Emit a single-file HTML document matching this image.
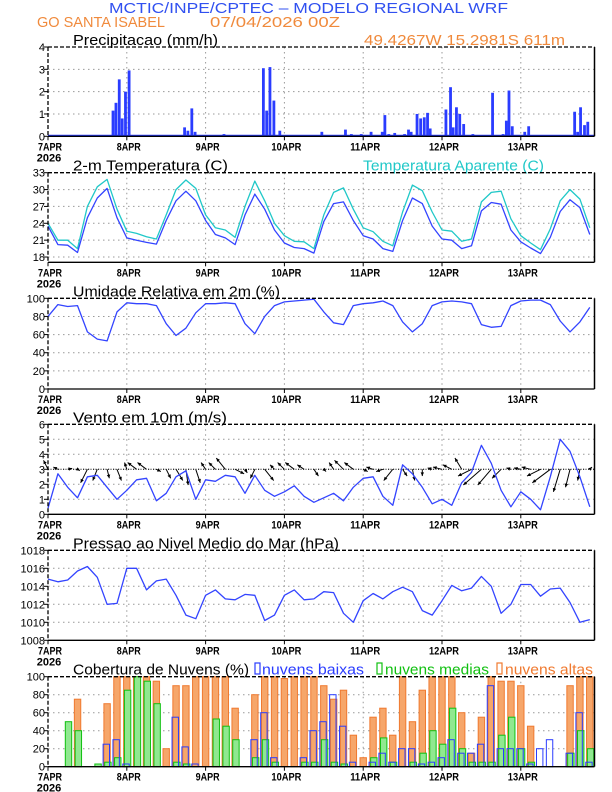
<!DOCTYPE html>
<html><head><meta charset="utf-8"><style>
html,body{margin:0;padding:0;background:#fff}
svg{display:block}
text{font-family:"Liberation Sans",sans-serif}
</style></head><body>
<svg id="chart" width="612" height="792" viewBox="0 0 612 792" xmlns="http://www.w3.org/2000/svg">
<text x="109" y="13" font-size="15" fill="#3050f0" textLength="399" lengthAdjust="spacingAndGlyphs">MCTIC/INPE/CPTEC – MODELO REGIONAL WRF</text>
<text x="37" y="27" font-size="15" fill="#f08a3c" textLength="128" lengthAdjust="spacingAndGlyphs">GO SANTA ISABEL</text>
<text x="210" y="27" font-size="15" fill="#f08a3c" textLength="130" lengthAdjust="spacingAndGlyphs">07/04/2026 00Z</text>
<text x="364" y="45" font-size="15" fill="#f08a3c" textLength="201" lengthAdjust="spacingAndGlyphs">49.4267W 15.2981S 611m</text>
</svg>
<script>
// ---------- data ----------
const dayLabels = ["7APR","8APR","9APR","10APR","11APR","12APR","13APR"];
const hours3 = [0,3,6,9,12,15,18,21,24,27,30,33,36,39,42,45,48,51,54,57,60,63,66,69,72,75,78,81,84,87,90,93,96,99,102,105,108,111,114,117,120,123,126,129,132,135,138,141,144,147,150,153,156,159,162,165];
const precipHours = [12.6,15,16,19.8,20.7,21.7,22.6,23.6,24.7,41.6,42.6,43.8,44.8,53.6,54.6,65.6,66.6,67.6,68.8,70.6,71.6,83.4,84.6,90.6,92.4,95.4,98.4,101.8,102.6,103.8,105.6,108.6,109.8,110.6,112.4,113.5,114.6,115.6,116.4,121.2,122.6,123.4,124.4,125.4,126.6,129.4,135.4,138.6,139.6,140.4,141.4,144,145.2,146.4,149.4,150.4,160.4,161.3,162.2,163.4,164.4];
const precipValues = [0.05,0.05,0.05,1.15,1.5,2.55,0.8,2.0,2.95,0.4,0.25,1.25,0.2,0.1,0.05,3.05,1.15,3.1,1.6,0.25,0.05,0.2,0.05,0.3,0.1,0.1,0.2,0.2,0.95,0.1,0.15,0.1,0.3,0.2,1.0,0.8,0.85,1.05,0.35,1.2,2.2,0.4,1.3,1.0,0.55,0.1,1.95,0.1,0.7,2.05,0.45,0.05,0.2,0.45,0.05,0.05,1.1,0.2,1.3,0.5,0.65];
const tempValues = [23.5,20.2,20.1,18.8,25.0,28.5,30.2,25.0,21.4,21.0,20.6,20.3,24.5,28.0,29.7,28.0,24.5,22.0,21.4,20.2,25.5,29.2,26.5,22.8,20.5,19.7,19.5,18.7,24.3,27.5,27.8,24.5,21.8,21.2,19.5,19.0,24.5,28.5,27.5,23.5,21.2,21.0,19.5,20.0,26.2,27.7,27.4,22.8,20.7,19.6,18.6,21.5,26.1,28.2,26.8,22.0];
const apparentValues = [24,21,21,19.5,27,30.5,31.8,26.5,22.6,22.2,21.6,21.2,25.5,30,31.7,30.2,25.5,23.2,22.8,21.5,27,31.5,28,24,21.8,20.8,20.7,19.5,25.5,29.5,30.3,26.5,23.2,22.5,20.8,20.0,26.0,30.8,29.8,26.0,22.8,22.6,20.8,21.2,27.8,29.5,29.7,24.8,21.8,20.5,19.3,23.0,28.0,30.0,28.3,23.2];
const rhValues = [80,93,91,92,63,55,53,85,95,94,94,92,72,59,67,84,94,94,95,94,72,61,80,92,96,97,98,99,85,73,71,92,94,95,97,92,74,63,72,92,96,97,96,94,71,68,69,92,97,98,98,93,75,63,74,90];
const windSpeed = [0.4,2.7,1.8,1.1,2.5,2.6,1.8,1.0,1.6,2.3,2.4,0.9,1.4,2.5,2.9,1.0,2.3,2.2,2.6,2.5,1.4,2.6,1.6,1.2,1.5,1.9,1.2,0.8,1.1,1.4,0.9,1.8,2.4,2.5,1.2,0.6,3.3,2.7,1.8,0.7,1.0,0.6,2.1,2.8,4.6,3.4,1.6,0.5,1.5,1.0,0.3,2.5,5.0,4.2,2.5,0.5];
const windU = [-1,-1,1,0.5,-1.5,-1,0.5,1,-0.5,-2,-2,1,1,1.5,0.5,1,-1,-1.5,-2,2,0.5,-1,2,-1,-1.5,-2,-1.5,1,0.5,-1,-2,-2,1,-1.5,-1.5,-2,1,0.5,0,-1,-2,-2,-1.5,-3,-4,-3,-2,-1,-1.5,-2,-3,-4,-1.5,-1,-0.5,0.5];
const windV = [2,0.5,0.2,-0.3,-3,-2.5,-2,-2.5,1.5,1.5,1.5,-0.5,-2,-2.5,-3.5,-3,1.5,1.5,2.5,-1,-0.8,-2,-2.5,1,1.5,1.5,1,-1.5,-0.5,1.5,2,1.5,-0.5,0.5,-0.5,-2.5,-1.5,-2.5,-1.5,0.3,0.5,1,2.5,-1.5,-3.5,-3.5,-2,0.3,0.3,0.5,-1.5,-3,-5,-4,-2.5,0.5];
const pressureValues = [1014.8,1014.5,1014.7,1015.7,1016.2,1015.0,1012.0,1012.1,1016.0,1016.0,1013.6,1014.6,1014.8,1013.0,1010.8,1010.4,1013.0,1013.6,1012.6,1012.5,1013.1,1013.0,1010.2,1010.8,1013.0,1013.6,1012.5,1012.6,1013.4,1013.3,1011.0,1010.0,1012.4,1013.2,1012.6,1013.4,1013.9,1013.4,1011.3,1010.8,1012.4,1014.1,1013.5,1013.8,1015.1,1014.0,1011.0,1012.0,1014.2,1014.2,1012.9,1013.7,1013.8,1012.2,1010.0,1010.3];
const cloudHigh = [0,0,0,75,0,0,70,100,100,100,100,95,20,90,90,100,100,100,100,65,0,80,100,100,98,100,100,100,90,75,85,35,10,55,65,35,100,50,85,100,100,100,60,15,55,100,95,95,90,45,0,0,0,90,100,100];
const cloudMid = [0,0,50,40,0,3,5,10,85,100,95,70,0,5,3,0,0,53,45,30,0,10,30,5,0,0,5,5,30,5,3,0,0,10,32,5,0,5,15,40,25,65,20,5,5,5,35,55,20,5,0,0,0,15,40,20];
const cloudLow = [0,0,0,0,0,0,25,30,3,0,0,0,0,55,22,3,0,0,0,0,0,30,60,10,0,0,10,40,50,80,45,5,0,5,15,5,20,20,3,5,10,30,15,15,25,90,20,20,20,3,20,30,0,15,60,5];

// ---------- axes ----------
const svg = document.getElementById('chart');
const NS = 'http://www.w3.org/2000/svg';
const X0 = 48, DAY = 78.8, XR = 594.5;
function xs(h){ return X0 + h*DAY/24; }
function mk(tag, attrs, parent){ const e=document.createElementNS(NS,tag); for(const k in attrs) e.setAttribute(k,attrs[k]); (parent||svg).appendChild(e); return e; }
function panel(name, top, bot, min, max, ticks, title, titleW){
  const g = mk('g',{});
  
  
  const ys = v => bot - (v-min)/(max-min)*(bot-top);
  // grid
  ticks.forEach(t=>{ const y=ys(t); if(y>top+1 && y<bot-1){ const l=mk('line',{x1:X0,x2:XR,y1:y,y2:y,stroke:'#999','stroke-dasharray':'1.5,3.5','stroke-width':1},g);   } });
  for(let d=1; d<7; d++){ const x=xs(d*24); const l=mk('line',{x1:x,x2:x,y1:top,y2:bot,stroke:'#999','stroke-dasharray':'1.5,3.5','stroke-width':1},g);   }
  // y ticks labels
  ticks.forEach(t=>{ const y=ys(t);
    mk('line',{x1:X0-4,x2:X0,y1:y,y2:y,stroke:'#000'},g);
    const tx=mk('text',{x:45,y:y+4,'font-size':11,'text-anchor':'end',fill:'#000'},g); tx.textContent=t;
      });
  // x labels
  dayLabels.forEach((lab,i)=>{ const x=xs(i*24);
    mk('line',{x1:x,x2:x,y1:bot,y2:bot+4,stroke:'#000'},g);
    const tx=mk('text',{x:x+2,y:bot+14,'font-size':11,'text-anchor':'middle',fill:'#000','font-weight':'bold',textLength:lab.length*6,lengthAdjust:'spacingAndGlyphs'},g); tx.textContent=lab;
      });
  const yr=mk('text',{x:49,y:bot+25,'font-size':11,'text-anchor':'middle',fill:'#000','font-weight':'bold'},g); yr.textContent='2026';
   
  const tt=mk('text',{x:73,y:top-2,'font-size':15,fill:'#000',textLength:titleW,lengthAdjust:'spacingAndGlyphs'},g); tt.textContent=title;
   
  return {g, ys, top, bot};
}
function frame(p){
  const f=mk('g',{});
   
  mk('line',{x1:X0,x2:XR,y1:p.top,y2:p.top,stroke:'#000','stroke-dasharray':'4,2','stroke-width':1.3},f);
  mk('line',{x1:X0,x2:X0,y1:p.top,y2:p.bot,stroke:'#000','stroke-dasharray':'4,2','stroke-width':1.3},f);
  mk('line',{x1:XR,x2:XR,y1:p.top,y2:p.bot,stroke:'#000','stroke-width':1.5},f);
  mk('line',{x1:X0,x2:XR,y1:p.bot,y2:p.bot,stroke:'#000','stroke-width':1.3},f);
}
function line(p, vals, color, name){
  const d = vals.map((v,i)=>(i?'L':'M')+xs(hours3[i]).toFixed(1)+','+p.ys(v).toFixed(1)).join(' ');
  const pl=mk('path',{d, fill:'none', stroke:color,'stroke-width':1.3,'stroke-linejoin':'round'},p.g);
   
}

// Panel 1: precipitation
const p1 = panel('precip-panel',47,136.3,0,4,[0,1,2,3,4],'Precipitacao (mm/h)',145);
precipHours.forEach((h,i)=>{ const y=p1.ys(precipValues[i]);
  const r=mk('rect',{x:xs(h)-1.4,y:y,width:2.8,height:p1.bot-y,fill:'#2a3cff'},p1.g);
    });
const base=mk('line',{x1:X0,x2:XR,y1:135.5,y2:135.5,stroke:'#2a3cff','stroke-width':1.5},p1.g);
frame(p1);

// Panel 2: temperature
const p2 = panel('temperature-panel',172.7,262.3,17.06,33,[18,21,24,27,30,33],'2-m Temperatura (C)',155);
const at=mk('text',{x:363,y:170.7,'font-size':15,fill:'#20c8c8',textLength:181,lengthAdjust:'spacingAndGlyphs'},p2.g); at.textContent='Temperatura Aparente (C)';
 
line(p2, apparentValues, '#20c8c8', 'apparent-temperature-line');
line(p2, tempValues, '#3344ff', 'temperature-line');
frame(p2);

// Panel 3: RH
const p3 = panel('humidity-panel',298.3,389,0,100,[0,20,40,60,80,100],'Umidade Relativa em 2m (%)',207);
line(p3, rhValues, '#3344ff', 'humidity-line');
frame(p3);

// Panel 4: wind
const p4 = panel('wind-panel',424.3,514.3,0,6,[0,1,2,3,4,5,6],'Vento em 10m (m/s)',154);
const y3 = p4.ys(3);
mk('line',{x1:X0,x2:XR,y1:y3,y2:y3,stroke:'#000','stroke-dasharray':'1,1.5','stroke-width':1},p4.g);
windU.forEach((u,i)=>{ const x=xs(hours3[i]); const k=4.5; const x2=x+u*k, y2=y3-windV[i]*k;
  const ag=mk('g',{},p4.g);
   
  mk('line',{x1:x,y1:y3,x2:x2,y2:y2,stroke:'#000','stroke-width':1},ag);
  const a=Math.atan2(y2-y3,x2-x); const L=4;
  const pts=[[x2,y2],[x2-L*Math.cos(a-0.45),y2-L*Math.sin(a-0.45)],[x2-L*Math.cos(a+0.45),y2-L*Math.sin(a+0.45)]];
  mk('polygon',{points:pts.map(p=>p.map(v=>v.toFixed(1)).join(',')).join(' '),fill:'#000'},ag);
});
line(p4, windSpeed, '#3344ff', 'wind-speed-line');
frame(p4);

// Panel 5: pressure
const p5 = panel('pressure-panel',550.3,640.3,1008,1018,[1008,1010,1012,1014,1016,1018],'Pressao ao Nivel Medio do Mar (hPa)',266);
line(p5, pressureValues, '#3344ff', 'pressure-line');
frame(p5);

// Panel 6: clouds
const p6 = panel('cloud-panel',676.7,766.7,0,100,[0,20,40,60,80,100],'Cobertura de Nuvens (%)',176);
function bars(vals, fill, stroke, off, name){
  vals.forEach((v,i)=>{ if(v<=0) return; const y=p6.ys(v);
    const r=mk('rect',{x:xs(hours3[i])+off-3.2,y:y,width:6.4,height:p6.bot-y,fill:fill,stroke:stroke,'stroke-width':1},p6.g);
      });
}
bars(cloudHigh,'#f6a66a','#f07a30',0,'high-cloud-bar');
bars(cloudMid,'#90e890','#10c010',0.8,'mid-cloud-bar');
bars(cloudLow,'none','#2a3cff',-0.8,'low-cloud-bar');
const leg=[[255,262,102,'nuvens baixas','#2a3cff','low-cloud-legend'],[377,385,104,'nuvens medias','#10c010','mid-cloud-legend'],[497,505,88,'nuvens altas','#f07a30','high-cloud-legend']];
leg.forEach(l=>{ const lg=mk('g',{},p6.g);
   
  mk('rect',{x:l[0],y:663,width:5,height:11,fill:'none',stroke:l[4],'stroke-width':1.2},lg);
  const t=mk('text',{x:l[1],y:674.7,'font-size':15,fill:l[4],textLength:l[2],lengthAdjust:'spacingAndGlyphs'},lg); t.textContent=l[3]; });
frame(p6);
</script>
</body></html>
